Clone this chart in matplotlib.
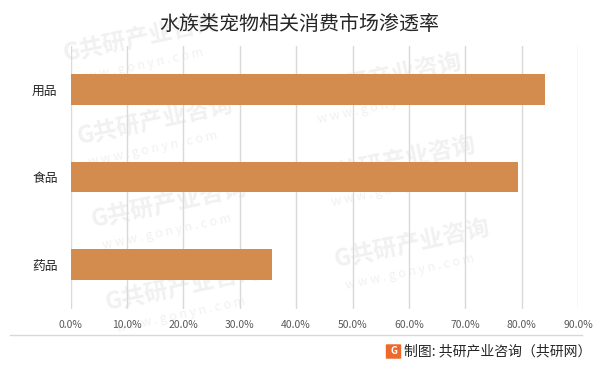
import matplotlib
matplotlib.use("Agg")
import matplotlib.pyplot as plt
from matplotlib.patches import FancyBboxPatch

plt.rcParams['font.family'] = ['Noto Sans CJK SC', 'DejaVu Sans']

categories = ["用品", "食品", "药品"]
values = [84.2, 79.4, 35.7]
xticks = [0, 10, 20, 30, 40, 50, 60, 70, 80, 90]
title = "水族类宠物相关消费市场渗透率"
source = "制图: 共研产业咨询（共研网）"
wm_main = "G共研产业咨询"
wm_sub = "w w w . g o n y n . c o m"

W, H = 600, 367
fig = plt.figure(figsize=(W / 100, H / 100), dpi=100)
renderer = fig.canvas.get_renderer()

# watermarks (behind everything); keep only those fully inside the picture
for col, (x0, y0) in enumerate([(-165, 90), (65, 47), (294, 4), (524, 47)]):
    for k in range(-1, 6):
        gx = x0 + 14 * k
        gy = y0 + 83 * k
        t1 = fig.text(gx / W, 1 - (gy + 14) / H, wm_main, fontsize=17, fontweight='bold',
                      color='#f1f1f1', rotation=12, rotation_mode='anchor',
                      ha='left', va='baseline', zorder=-5)
        t2 = fig.text((gx + 10) / W, 1 - (gy + 36) / H, wm_sub, fontsize=9,
                      color='#f1f1f1', rotation=12, rotation_mode='anchor',
                      ha='left', va='baseline', zorder=-5)
        for t in (t1, t2):
            bb = t.get_window_extent(renderer)
            if bb.x0 < 0 or bb.y0 < 0 or bb.x1 > W or bb.y1 > H:
                t1.remove()
                t2.remove()
                break

ax = fig.add_axes([70.8 / W, 1 - 308.5 / H, (577.9 - 70.8) / W, (308.5 - 45.5) / H])
ax.patch.set_visible(False)

ypos = list(range(len(categories)))
ax.barh(ypos, values, height=0.35, color="#D38B4E", zorder=3)
ax.set_ylim(len(categories) - 0.5, -0.5)
ax.set_yticks(ypos)
ax.set_yticklabels(categories, fontsize=9.2, color="#262626")
ax.set_xlim(0, 90)
ax.set_xticks(xticks)
ax.set_xticklabels([f"{t:.1f}%" for t in xticks], fontsize=7.5, color="#595959")
ax.tick_params(axis='x', length=0, pad=8)
ax.tick_params(axis='y', length=0, pad=9.5)
ax.grid(axis='x', color="#d9d9d9", linewidth=1, zorder=0)
for s in ax.spines.values():
    s.set_visible(False)

fig.text(299 / W, 1 - 24 / H, title, ha='center', va='center', fontsize=14.4, color="#262626")

# footer divider
fig.add_artist(plt.Line2D([9.6 / W, 582 / W], [1 - 335 / H, 1 - 335 / H], color="#d9d9d9", linewidth=1))
# logo
fig.add_artist(FancyBboxPatch((387 / W, 1 - 358 / H), 13 / W, 13 / H, boxstyle="round,pad=0.002",
                              transform=fig.transFigure, facecolor="#EE6A2C", edgecolor="none"))
fig.text(393.5 / W, 1 - 351.5 / H, "G", ha='center', va='center', fontsize=7, fontweight='bold', color='white')
fig.text(404.5 / W, 1 - 351.5 / H, source, ha='left', va='center', fontsize=10, color="#262626")

fig.savefig("out.png", dpi=100)
